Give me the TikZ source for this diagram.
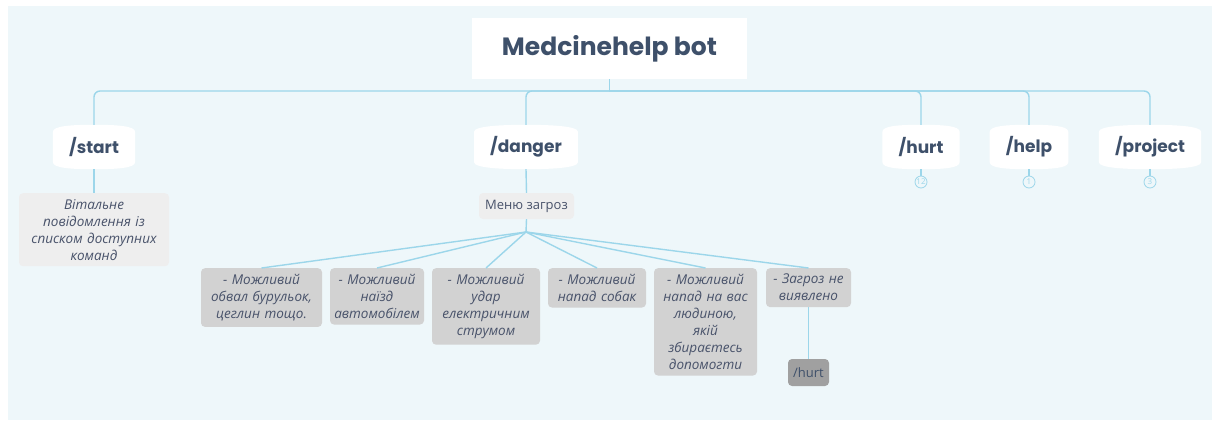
\documentclass[tikz,border=0pt]{standalone}
\usepackage{fontspec}
\setmainfont{Open Sans}
\newfontfamily\headfont{Poppins}
\usetikzlibrary{positioning,backgrounds}
\definecolor{inkblue}{RGB}{62,80,106}
\definecolor{notetext}{RGB}{72,82,106}
\definecolor{linkblue}{RGB}{156,214,234}
\definecolor{bgblue}{RGB}{238,247,250}
\definecolor{lightgray}{RGB}{238,238,238}
\definecolor{notegray}{RGB}{210,210,210}
\definecolor{darkgray}{RGB}{160,160,160}
\newcommand\tabshape[1]{%
  \fill[white] ([yshift=-7pt]#1.north west) .. controls ([yshift=-1pt]#1.north west) and ([xshift=-22pt]#1.north) .. (#1.north)
    .. controls ([xshift=22pt]#1.north) and ([yshift=-1pt]#1.north east) .. ([yshift=-7pt]#1.north east)
    -- ([yshift=7pt]#1.south east) .. controls ([yshift=1pt]#1.south east) and ([xshift=22pt]#1.south) .. (#1.south)
    .. controls ([xshift=-22pt]#1.south) and ([yshift=1pt]#1.south west) .. ([yshift=7pt]#1.south west) -- cycle;}
\begin{document}
\begin{tikzpicture}[x=1pt,y=-1pt,
  link/.style={draw=linkblue, line width=1.4pt},
  tab/.style={font=\headfont\bfseries\fontsize{17}{20}\selectfont, text=inkblue, minimum height=44pt, inner xsep=16pt},
  count/.style={circle, draw=linkblue, line width=0.8pt, text=linkblue, font=\fontsize{8}{8}\selectfont, inner sep=0pt, minimum size=12pt},
  note/.style={fill=notegray, rounded corners=4pt, font=\itshape\fontsize{13.5}{17}\selectfont, text=notetext, align=center, inner xsep=3pt, inner ysep=6pt, anchor=north},
  plain/.style={rounded corners=4pt, font=\fontsize{13}{17}\selectfont, inner sep=0pt}]
\node[fill=white, minimum width=275pt, minimum height=61pt, inner sep=0pt, font=\headfont\bfseries\fontsize{25}{30}\selectfont, text=inkblue] (bot) at (609.5,48.5) {Medcinehelp bot};
\coordinate (bus) at (609,91);
\node[tab] (start) at (94,147) {/start};
\node[tab] (danger) at (526,147) {/danger};
\node[tab] (hurt) at (921,147) {/hurt};
\node[tab] (help) at (1029,147) {/help};
\node[tab] (project) at (1150,147) {/project};
\node[count] (n12) at (921,182) {12};
\node[count] (n1) at (1029,182) {1};
\node[count] (n3) at (1150,182) {3};
\node[note, fill=lightgray, text width=144pt] (welcome) at (94,193) {Вітальне\\повідомлення із\\списком доступних\\команд};
\node[plain, fill=lightgray, text=notetext, minimum width=95pt, minimum height=26pt] (menu) at (526.5,206) {Меню загроз};
\coordinate (fan) at (526,232);
\node[note, text width=115pt] (d1) at (261.5,268) {- Можливий\\обвал бурульок,\\цеглин тощо.};
\node[note, text width=88pt] (d2) at (377,268) {- Можливий\\наїзд\\автомобілем};
\node[note, text width=102pt] (d3) at (486,268) {- Можливий\\удар\\електричним\\струмом};
\node[note, text width=92pt] (d4) at (597,268) {- Можливий\\напад собак};
\node[note, text width=97pt] (d5) at (705.5,268) {- Можливий\\напад на вас\\людиною,\\якій\\збираєтесь\\допомогти};
\node[note, text width=79pt] (d6) at (808.5,268) {- Загроз не\\виявлено};
\node[plain, fill=darkgray, text=inkblue, minimum width=41pt, minimum height=27pt] (hurt2) at (808.5,372.5) {/hurt};
\draw[link] (bot.south) -- (bot.south |- bus);
\draw[link, rounded corners=6pt] (start.north) |- (bus) -| (project.north);
\draw[link, rounded corners=6pt] (danger.north) |- (bus);
\draw[link, rounded corners=6pt] (bus) -| (hurt.north);
\draw[link, rounded corners=6pt] (bus) -| (help.north);
\draw[link] (hurt.south) -- (n12);
\draw[link] (help.south) -- (n1);
\draw[link] (project.south) -- (n3);
\draw[link] (start.south) -- (welcome.north);
\draw[link] (danger.south) -- (menu.north);
\draw[link] (menu.south) -- (fan);
\foreach \c in {d1,d2,d3,d4,d5,d6} \draw[link] (fan) -- (\c.north);
\draw[link] (d6.south) -- (hurt2.north);
\begin{scope}[on background layer]
\fill[white] (0,0) rectangle (1214,420);
\fill[bgblue] (8,6) rectangle (1212,420);
\foreach \t in {start,danger,hurt,help,project} \tabshape{\t};
\end{scope}
\end{tikzpicture}
\end{document}
